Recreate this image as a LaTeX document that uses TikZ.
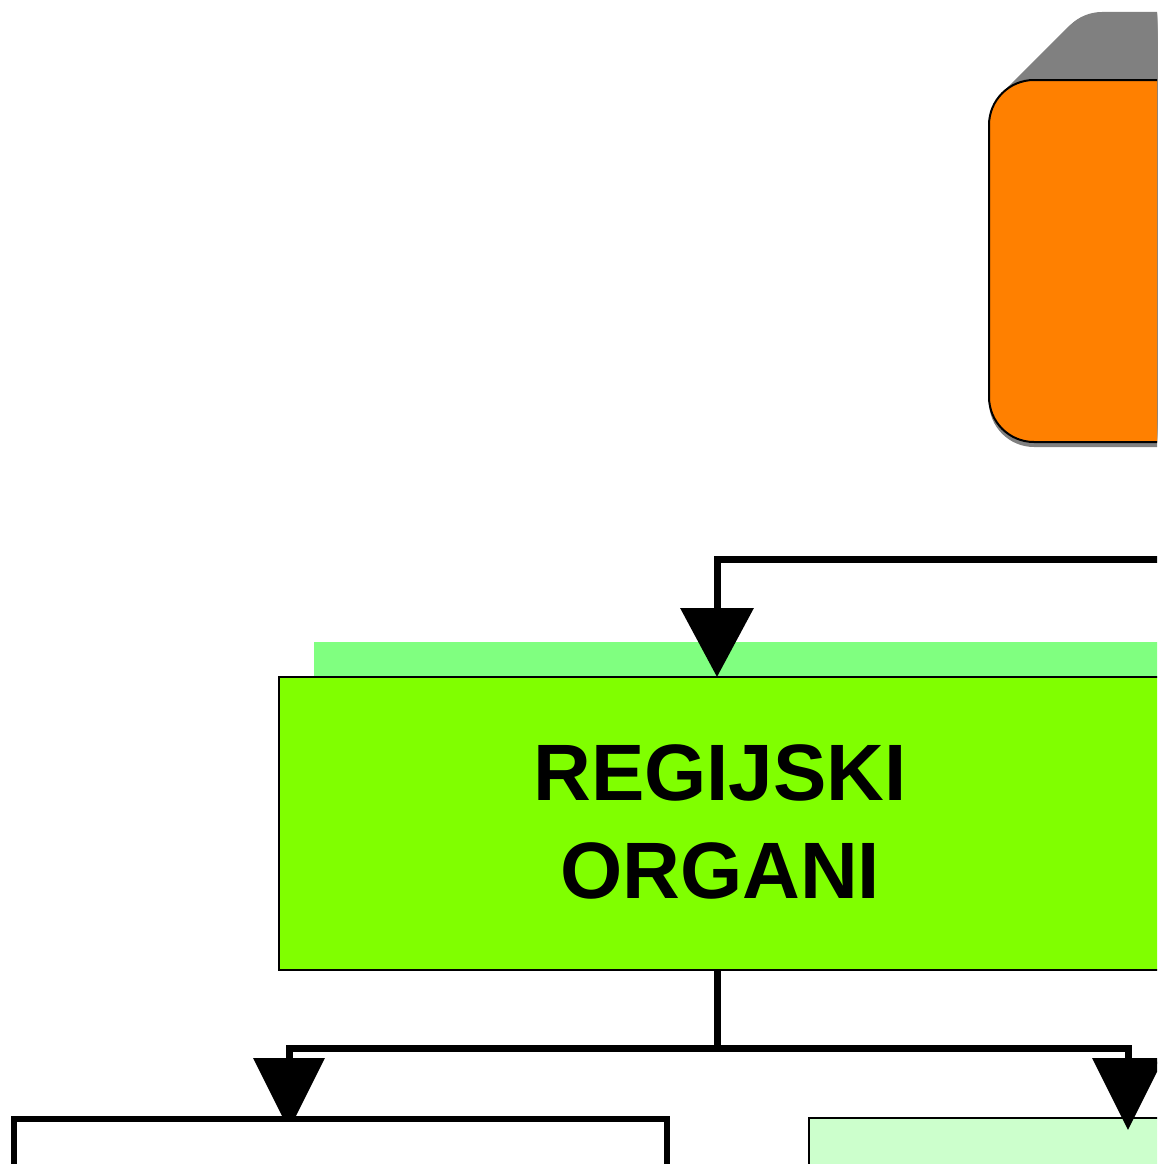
\documentclass[tikz,border=0pt]{standalone}
\usepackage{fontspec}
\setmainfont{Liberation Sans}
\usetikzlibrary{arrows.meta,calc}
\definecolor{orangebox}{HTML}{FF8000}
\definecolor{greenbox}{HTML}{80FF00}
\definecolor{greenshadow}{HTML}{80FF80}
\definecolor{lightgreen}{HTML}{CCFFCC}
\definecolor{shadowgray}{HTML}{808080}
\tikzset{
  conn/.style={line width=7pt,-{Triangle[length=69pt,width=72pt]}},
  connlow/.style={line width=7pt,-{Triangle[length=72pt,width=70pt]}},
  connplain/.style={line width=7pt},
  boxnode/.style={draw=black,anchor=north west,inner sep=0pt,outer sep=0pt},
  labeltext/.style={font=\bfseries\fontsize{80}{98}\selectfont,align=center}
}
\begin{document}
\begin{tikzpicture}[x=1pt,y=-1pt]
\useasboundingbox (0,0) rectangle (1157,1164);
\clip (0,0) rectangle (1157,1164);
% orange box extrusion (3D shadow)
\foreach \i in {0,1,...,68}{
  \fill[shadowgray,rounded corners=45pt] (989+\i,80-\i) rectangle (1450+\i,442-\i);
}
\fill[shadowgray,rounded corners=45pt] (989,85) rectangle (1450,447);
\node[boxnode,fill=orangebox,line width=2pt,rounded corners=45pt,minimum width=461pt,minimum height=362pt] (top) at (989,80) {};
% green box
\fill[greenshadow] (314,642) rectangle (1250,677);
\node[boxnode,fill=greenbox,line width=1.5pt,minimum width=900pt,minimum height=293pt] (green) at (279,677) {};
\node[labeltext] (greentext) at (720,822) {REGIJSKI\\ORGANI};
\coordinate (gin) at (717,677);
\coordinate (gout) at (717,970);
% right bottom box
\node[boxnode,fill=lightgreen,line width=1.5pt,minimum width=638pt,minimum height=300pt] (rbox) at (809,1118) {};
% connectors
\coordinate (feed) at (1170,559);
\draw[conn] (feed) -| (gin);
\draw[connplain] (gout) -- (717,1048) coordinate (split);
\coordinate (lin) at (289,1130);
\coordinate (rin) at (1128,1130);
\draw[connlow] (split) -| (lin);
\draw[connlow] (split) -| (rin);
% left bottom box (covers the tip of its arrow)
\node[boxnode,fill=white,line width=6pt,minimum width=653pt,minimum height=300pt] (lbox) at (13.5,1119) {};
\end{tikzpicture}
\end{document}
